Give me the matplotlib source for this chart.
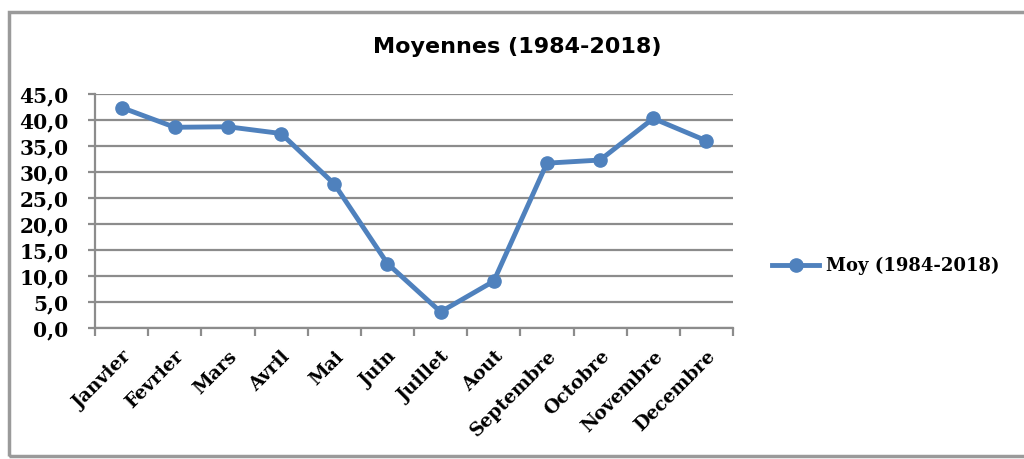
import numpy as np
import matplotlib.pyplot as plt
from matplotlib.ticker import FuncFormatter, FixedLocator
from matplotlib.patches import Rectangle

# Moyennes mensuelles 1984-2018
mois = ['Janvier', 'Fevrier', 'Mars', 'Avril', 'Mai', 'Juin', 'Juillet',
        'Aout', 'Septembre', 'Octobre', 'Novembre', 'Decembre']
moy = [42.4, 38.6, 38.7, 37.4, 27.7, 12.4, 3.1, 9.0, 31.7, 32.3, 40.3, 36.0]
y_ticks = np.arange(0, 50, 5)

bleu = '#4F81BD'
gris = '#8C8C8C'

fig = plt.figure(figsize=(10.24, 4.59), dpi=100)
ax = fig.add_axes([95 / 1024, 1 - 328 / 459, 638 / 1024, 234 / 459])

x = np.arange(len(mois))
ax.plot(x, moy, '-o', color=bleu, lw=3.5, markersize=9.5, label='Moy (1984-2018)',
        zorder=3)

ax.set_xlim(-0.5, len(mois) - 0.5)
ax.set_ylim(0, 45)
ax.set_yticks(y_ticks)
ax.yaxis.set_major_formatter(FuncFormatter(lambda v, p: f"{v:.1f}".replace('.', ',')))
ax.grid(axis='y', color=gris, lw=1.6, zorder=0)

ax.set_xticks(x)
ax.set_xticklabels(mois, rotation=45, ha='right', rotation_mode='anchor',
                   family='DejaVu Serif', fontweight='bold', fontsize=13.5)
ax.tick_params(axis='x', which='major', length=0, pad=14)
ax.xaxis.set_minor_locator(FixedLocator(np.arange(-0.5, len(mois), 1.0)))
ax.tick_params(axis='x', which='minor', length=6, color=gris, width=1.6,
               direction='out')
ax.tick_params(axis='y', length=5, color=gris, width=1.6, pad=14)
for lab in ax.get_yticklabels():
    lab.set_family('DejaVu Serif')
    lab.set_fontweight('bold')
    lab.set_fontsize(14.5)

for s in ['top', 'right']:
    ax.spines[s].set_visible(False)
for s in ['left', 'bottom']:
    ax.spines[s].set_color(gris)
    ax.spines[s].set_linewidth(1.6)

fig.text(517 / 1024, 1 - 47 / 459, 'Moyennes (1984-2018)', ha='center', va='center',
         family=['Liberation Sans Narrow', 'DejaVu Sans'], fontweight='bold',
         fontsize=16)

fig.legend(loc='center left', bbox_to_anchor=(756 / 1024, 1 - 266 / 459),
           frameon=False, handlelength=2.6, handletextpad=0.35,
           prop={'family': 'DejaVu Serif', 'weight': 'bold', 'size': 13})

# cadre du graphique
fig.patches.append(Rectangle((9 / 1024, 3 / 459), 1.1, 1 - 15 / 459,
                             transform=fig.transFigure, fill=False,
                             edgecolor='#9A9A9A', lw=2.5))

fig.savefig('out.png', dpi=100)
